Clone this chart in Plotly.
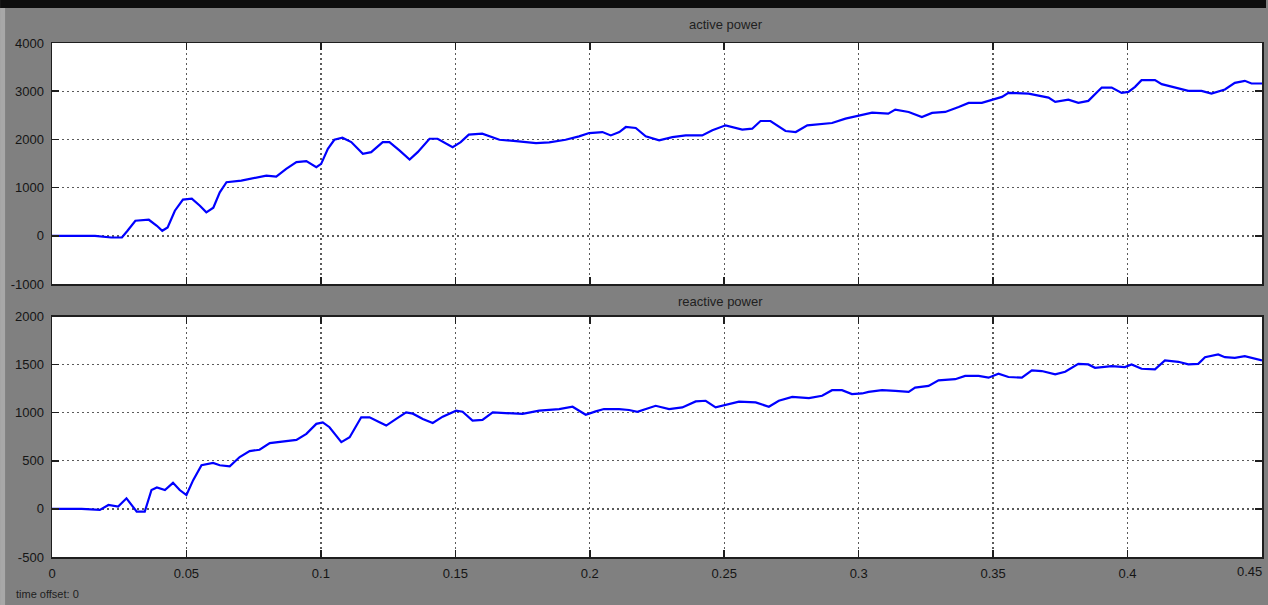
import plotly.graph_objects as go

# ---------------- data ----------------
t_active = [0, 0.016, 0.022, 0.026, 0.028, 0.031, 0.036, 0.039, 0.041, 0.043,
            0.0457, 0.0487, 0.052, 0.055, 0.0574, 0.060, 0.0624, 0.0649, 0.0704, 0.076,
            0.0797, 0.0834, 0.0871, 0.0909, 0.0946, 0.0983, 0.1001, 0.1026, 0.105, 0.108,
            0.1113, 0.1156, 0.1187, 0.123, 0.1255, 0.1292, 0.133, 0.136, 0.1404, 0.1434,
            0.1466, 0.149, 0.152, 0.155, 0.160, 0.1639, 0.1664, 0.1726, 0.180, 0.1849,
            0.191, 0.196, 0.1998, 0.2047, 0.2078, 0.211, 0.2134, 0.2171, 0.2208, 0.2258,
            0.2307, 0.2357, 0.2418, 0.2456, 0.2505, 0.2567, 0.2604, 0.2635, 0.2672, 0.2728,
            0.2766, 0.2809, 0.2852, 0.2901, 0.2951, 0.300, 0.305, 0.311, 0.3136, 0.3186,
            0.3235, 0.3273, 0.3322, 0.3372, 0.3409, 0.3458, 0.3495, 0.3533, 0.3557, 0.3632,
            0.3706, 0.3731, 0.378, 0.3817, 0.3854, 0.3904, 0.3941, 0.3978, 0.4003, 0.4028,
            0.4052, 0.4102, 0.4127, 0.4176, 0.4226, 0.4275, 0.4312, 0.4362, 0.4399, 0.4436,
            0.4461, 0.45]
active_power = [0, 0, -35, -35, 100, 312, 333, 208, 104, 173,
                521, 750, 771, 625, 486, 583, 903, 1111, 1146, 1208,
                1250, 1229, 1389, 1528, 1549, 1424, 1493, 1806, 1993, 2035,
                1944, 1701, 1736, 1944, 1944, 1771, 1583, 1736, 2014, 2014,
                1910, 1840, 1944, 2100, 2118, 2048, 1993, 1965, 1924, 1938,
                1993, 2063, 2132, 2153, 2083, 2153, 2257, 2236, 2063, 1979,
                2048, 2083, 2083, 2188, 2292, 2202, 2222, 2382, 2382, 2174,
                2153, 2292, 2313, 2340, 2431, 2500, 2556, 2535, 2618, 2569,
                2465, 2549, 2569, 2674, 2757, 2757, 2813, 2882, 2965, 2951,
                2868, 2778, 2826, 2757, 2799, 3076, 3076, 2965, 2986, 3090,
                3229, 3229, 3146, 3076, 3007, 3007, 2951, 3035, 3174, 3215,
                3160, 3160]

t_reactive = [0, 0.011, 0.0178, 0.021, 0.0246, 0.0277, 0.0315, 0.0345, 0.037, 0.039,
              0.042, 0.045, 0.0475, 0.050, 0.0525, 0.0556, 0.0599, 0.0624, 0.0661, 0.0698,
              0.0735, 0.0772, 0.081, 0.0859, 0.0909, 0.0946, 0.0983, 0.1007, 0.1032, 0.1076,
              0.1107, 0.115, 0.1181, 0.1218, 0.1243, 0.128, 0.1317, 0.1342, 0.1379, 0.1416,
              0.1453, 0.1503, 0.1527, 0.1564, 0.1601, 0.1639, 0.1688, 0.175, 0.1812, 0.1886,
              0.1936, 0.1985, 0.2022, 0.2053, 0.2109, 0.2146, 0.2177, 0.2208, 0.2245, 0.2295,
              0.2344, 0.2394, 0.2431, 0.2468, 0.2505, 0.2555, 0.2617, 0.2666, 0.2703, 0.2753,
              0.2815, 0.2864, 0.2901, 0.2938, 0.2975, 0.3013, 0.3037, 0.3087, 0.3136, 0.3186,
              0.321, 0.326, 0.3297, 0.3359, 0.3396, 0.3446, 0.3483, 0.352, 0.3557, 0.3607,
              0.3644, 0.3681, 0.3731, 0.3768, 0.3817, 0.3854, 0.3879, 0.3941, 0.399, 0.4015,
              0.4052, 0.4102, 0.4139, 0.4189, 0.4226, 0.4263, 0.4288, 0.4337, 0.4362, 0.4399,
              0.4436, 0.45]
reactive_power = [0, 0, -10, 41, 24, 110, -28, -28, 196, 223,
                  196, 271, 196, 144, 299, 454, 478, 454, 443, 539,
                  601, 615, 684, 704, 718, 780, 884, 900, 849, 694,
                  745, 952, 952, 900, 866, 935, 1003, 990, 935, 894,
                  959, 1021, 1010, 918, 925, 1003, 993, 987, 1021, 1038,
                  1062, 979, 1014, 1038, 1038, 1028, 1010, 1038, 1072, 1038,
                  1055, 1117, 1124, 1055, 1079, 1114, 1107, 1062, 1124, 1165,
                  1152, 1176, 1234, 1234, 1193, 1200, 1217, 1234, 1227, 1217,
                  1261, 1279, 1337, 1348, 1382, 1382, 1364, 1406, 1371, 1364,
                  1440, 1433, 1399, 1426, 1508, 1502, 1467, 1485, 1475, 1502,
                  1457, 1450, 1543, 1529, 1502, 1508, 1577, 1605, 1577, 1570,
                  1588, 1543]

x_ticks = [0, 0.05, 0.1, 0.15, 0.2, 0.25, 0.3, 0.35, 0.4, 0.45]
x_tick_labels = ["0", "0.05", "0.1", "0.15", "0.2", "0.25", "0.3", "0.35", "0.4", "0.45"]
y_ticks_active = [-1000, 0, 1000, 2000, 3000, 4000]
y_ticks_reactive = [-500, 0, 500, 1000, 1500, 2000]
titles = ["active power", "reactive power"]
footer_text = "time offset: 0"

# ---------------- geometry ----------------
W, H = 1268, 605
ML, MR, MT, MB = 52, 4, 43, 48
PW, PH = W - ML - MR, H - MT - MB


def py(px_y):
    return (H - MB - px_y) / PH


def pxx(px_x):
    return (px_x - ML) / PW


FONT = "Liberation Sans, Arial, sans-serif"
BG = "#808080"
AX = "#1e1e1e"
GRID = "#5a5a5a"
BLUE = "#0000ff"

fig = go.Figure()
fig.add_trace(go.Scatter(x=t_active, y=active_power, mode="lines",
                         line=dict(color=BLUE, width=2.2), xaxis="x", yaxis="y",
                         showlegend=False, hoverinfo="skip"))
fig.add_trace(go.Scatter(x=t_reactive, y=reactive_power, mode="lines",
                         line=dict(color=BLUE, width=2.2), xaxis="x2", yaxis="y2",
                         showlegend=False, hoverinfo="skip"))

common_x = dict(range=[0, 0.45], tickvals=x_ticks, showline=True, linecolor=AX, linewidth=1.5,
                mirror="ticks", ticks="inside", ticklen=7, tickcolor=AX, tickwidth=1.5,
                showgrid=True, gridcolor=GRID, griddash="2px,3px", gridwidth=1.4, zeroline=False,
                fixedrange=True)
common_y = dict(showline=True, linecolor=AX, linewidth=1.5, mirror="ticks", ticks="inside",
                ticklen=7, tickcolor=AX, tickwidth=1.5, showgrid=True, gridcolor=GRID,
                griddash="2px,3px", gridwidth=1.4, zeroline=False, fixedrange=True,
                tickfont=dict(family=FONT, size=13, color="#151515"), ticklabelstandoff=4)

top_y0 = py(284)
bot_y1 = py(316.5)

# the last x label sits on the right edge; it is drawn as an annotation kept inside the page
x_tick_text_shown = x_tick_labels[:-1] + [""]

fig.update_layout(
    width=W, height=H,
    margin=dict(l=ML, r=MR, t=MT, b=MB, pad=0),
    paper_bgcolor=BG, plot_bgcolor="white",
    font=dict(family=FONT, size=13, color="#151515"),
    xaxis=dict(common_x, domain=[0, 1], anchor="y", showticklabels=False),
    yaxis=dict(common_y, domain=[top_y0, 1], anchor="x", range=[-1000, 4000],
               tickvals=y_ticks_active, ticktext=[str(v) for v in y_ticks_active]),
    xaxis2=dict(common_x, domain=[0, 1], anchor="y2", ticktext=x_tick_text_shown,
                tickfont=dict(family=FONT, size=13, color="#151515"), ticklabelstandoff=4),
    yaxis2=dict(common_y, domain=[0, bot_y1], anchor="x2", range=[-500, 2000],
                tickvals=y_ticks_reactive, ticktext=[str(v) for v in y_ticks_reactive]),
    showlegend=False,
)

fig.add_annotation(text=x_tick_labels[-1], xref="paper", yref="paper", x=pxx(W - 2), y=py(571),
                   xanchor="right", yanchor="middle", showarrow=False,
                   font=dict(family=FONT, size=13, color="#151515"))

# toolbar strip at top and light edge at left
fig.add_shape(type="rect", xref="paper", yref="paper",
              x0=pxx(0), x1=pxx(W), y0=py(8), y1=py(0),
              fillcolor="#0d0d0d", line=dict(width=0), layer="below")
fig.add_shape(type="rect", xref="paper", yref="paper",
              x0=pxx(0), x1=pxx(5), y0=py(H), y1=py(8),
              fillcolor="#a8a8a8", line=dict(width=0), layer="below")

fig.add_annotation(text=titles[0], xref="paper", yref="paper", x=pxx(727), y=py(25),
                   xanchor="center", yanchor="middle", showarrow=False,
                   font=dict(family=FONT, size=13, color="#202020"))
fig.add_annotation(text=titles[1], xref="paper", yref="paper", x=pxx(722), y=py(301),
                   xanchor="center", yanchor="middle", showarrow=False,
                   font=dict(family=FONT, size=13, color="#202020"))
fig.add_annotation(text=footer_text, xref="paper", yref="paper", x=pxx(14), y=py(594),
                   xanchor="left", yanchor="middle", showarrow=False,
                   font=dict(family=FONT, size=11, color="#202020"))

fig.write_html("out.html", config={"displayModeBar": False, "staticPlot": True},
               post_script="document.body.style.margin='0';document.body.style.overflow='hidden';")
